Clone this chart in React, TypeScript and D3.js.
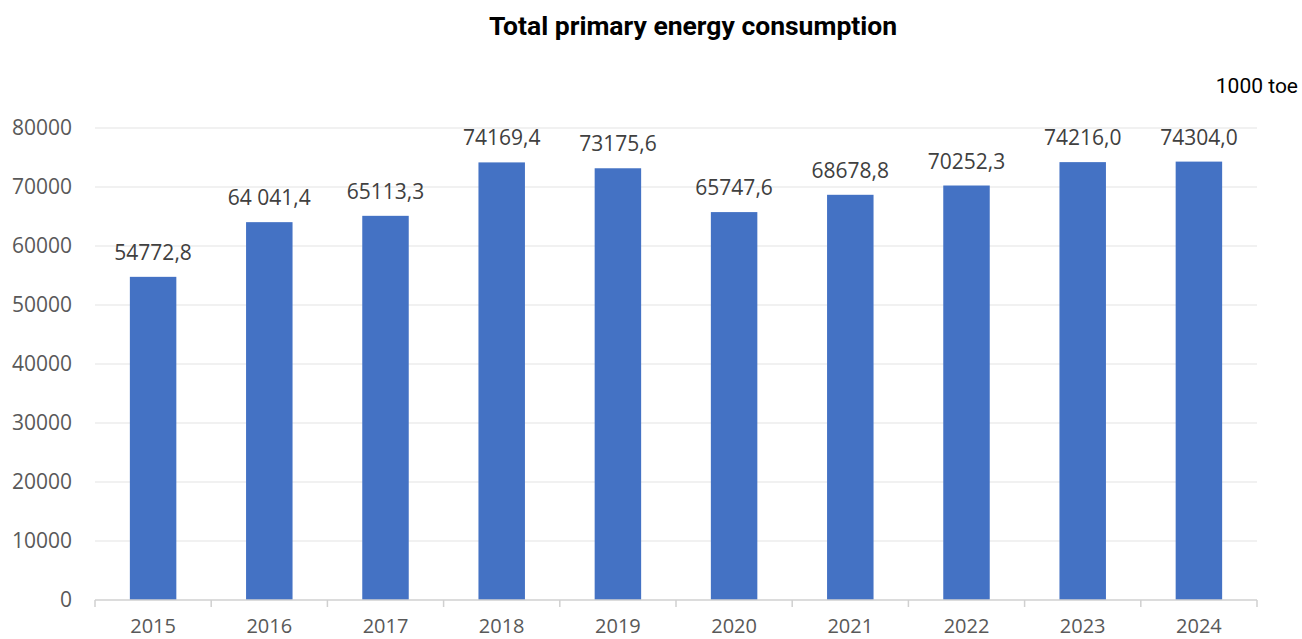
import * as d3 from "d3";
import React from "react";

const years = ["2015", "2016", "2017", "2018", "2019", "2020", "2021", "2022", "2023", "2024"];
const values = [54772.8, 64041.4, 65113.3, 74169.4, 73175.6, 65747.6, 68678.8, 70252.3, 74216.0, 74304.0];
const valueLabels = ["54772,8", "64 041,4", "65113,3", "74169,4", "73175,6", "65747,6", "68678,8", "70252,3", "74216,0", "74304,0"];
const yTicks = [0, 10000, 20000, 30000, 40000, 50000, 60000, 70000, 80000];

const W = 1302;
const H = 639;
const margin = { top: 128, right: 45, bottom: 39, left: 95 };

export default function App() {
  const x = d3
    .scaleBand()
    .domain(years)
    .range([margin.left, W - margin.right])
    .paddingInner(0.6)
    .paddingOuter(0.3);

  const y = d3
    .scaleLinear()
    .domain([0, 80000])
    .range([H - margin.bottom, margin.top]);

  const axisY = y(0);
  const font = "'Open Sans', sans-serif";
  const stepW = (W - margin.right - margin.left) / years.length;
  const boundaries = d3.range(years.length + 1).map((i) => margin.left + i * stepW);

  return (
    <svg
      width={W}
      height={H}
      style={{ position: "absolute", left: 0, top: 0, background: "#fff" }}
    >
      <text
        x={693}
        y={35}
        textAnchor="middle"
        fontFamily="Roboto, sans-serif"
        fontWeight="bold"
        fontSize={26.5}
        fill="#000"
      >
        Total primary energy consumption
      </text>
      <text
        x={1298}
        y={93}
        textAnchor="end"
        fontFamily="Roboto, sans-serif"
        fontSize={21}
        fill="#000"
      >
        1000 toe
      </text>

      {yTicks.map((t) => (
        <g key={t}>
          {t > 0 && (
            <line
              x1={margin.left}
              x2={W - margin.right}
              y1={y(t)}
              y2={y(t)}
              stroke="#ececec"
              strokeWidth={1.5}
            />
          )}
          <text
            x={72}
            y={y(t)}
            dy="0.35em"
            textAnchor="end"
            fontFamily={font}
            fontSize={21}
            fill="#595959"
          >
            {t}
          </text>
        </g>
      ))}

      {years.map((yr, i) => (
        <rect
          key={yr}
          x={x(yr)!}
          y={y(values[i])}
          width={x.bandwidth()}
          height={axisY - y(values[i])}
          fill="#4472c4"
        />
      ))}

      {years.map((yr, i) => (
        <text
          key={yr}
          x={x(yr)! + x.bandwidth() / 2}
          y={y(values[i]) - 17}
          textAnchor="middle"
          fontFamily={font}
          fontSize={21}
          fill="#404040"
        >
          {valueLabels[i]}
        </text>
      ))}

      <line
        x1={margin.left}
        x2={W - margin.right}
        y1={axisY}
        y2={axisY}
        stroke="#d0d0d0"
        strokeWidth={1.5}
      />
      {boundaries.map((bx, i) => (
        <line key={i} x1={bx} x2={bx} y1={axisY} y2={axisY + 7} stroke="#d0d0d0" strokeWidth={1.5} />
      ))}

      {years.map((yr) => (
        <text
          key={yr}
          x={x(yr)! + x.bandwidth() / 2}
          y={633}
          textAnchor="middle"
          fontFamily={font}
          fontSize={20}
          fill="#595959"
        >
          {yr}
        </text>
      ))}
    </svg>
  );
}
